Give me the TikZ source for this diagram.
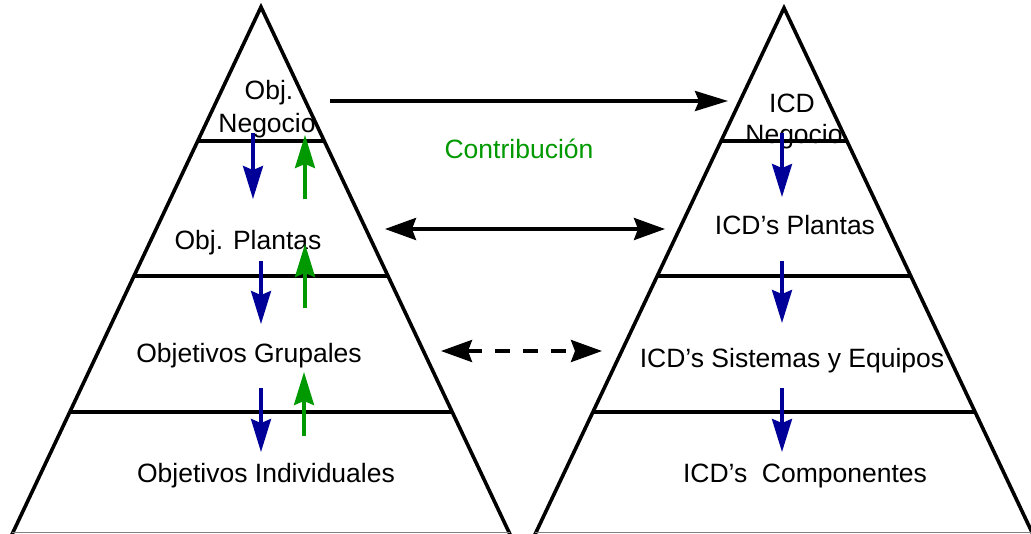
\documentclass[tikz,border=0pt]{standalone}
\usepackage{fontspec}
\setmainfont{Liberation Sans}
\usetikzlibrary{arrows.meta}
\definecolor{downblue}{HTML}{000099}
\definecolor{upgreen}{HTML}{009900}

\begin{document}
\begin{tikzpicture}[x=1pt,y=-1pt,
  side/.style={line width=3.6pt, line join=miter},
  tier/.style={line width=3.6pt},
  baseline/.style={line width=1pt, draw=gray},
  lbl/.style={font=\fontsize{26.5}{30}\selectfont, anchor=base, inner sep=0pt},
  tip/.style={-{Stealth[length=33pt,width=20pt,inset=4pt]}},
  tips/.style={{Stealth[length=31pt,width=22pt,inset=4pt]}-{Stealth[length=31pt,width=22pt,inset=4pt]}},
  link/.style={line width=3.6pt, black},
  down/.style={line width=3.4pt, draw=downblue, fill=downblue, tip},
  up/.style={line width=3.4pt, draw=upgreen, fill=upgreen, tip},
]
\useasboundingbox (0,0) rectangle (1031,533);

% ---- left pyramid: objectives ----
\coordinate (LA) at (261,7);
\draw[side] (7,545) -- (LA) -- (515,545);
\draw[tier] (197.5,141) -- (324.5,141);
\draw[tier] (133.5,276) -- (388.5,276);
\draw[tier] (69,412) -- (453,412);
\draw[baseline] (12,532.5) -- (510,532.5);

\node[lbl] (objA) at (269,99) {Obj.};
\node[lbl] (objB) at (267,132) {Negocio};
\node[lbl] (objP) at (248,249) {Obj. Plantas};
\node[lbl] (objG) at (249,362) {Objetivos Grupales};
\node[lbl] (objI) at (266,482) {Objetivos Individuales};

% ---- right pyramid: indicators ----
\coordinate (RA) at (784,8);
\draw[side] (530,545) -- (RA) -- (1038,545);
\draw[tier] (721,141) -- (847,141);
\draw[tier] (657,276) -- (911,276);
\draw[tier] (592.5,412) -- (975.5,412);
\draw[baseline] (535,532.5) -- (1031,532.5);

\node[lbl] (icdA) at (792,112) {ICD};
\node[lbl] (icdB) at (794,143) {Negocio};
\node[lbl] (icdP) at (795,234) {ICD’s Plantas};
\node[lbl] (icdS) at (792,367) {ICD’s Sistemas y Equipos};
\node[lbl] (icdC) at (805,482) {ICD’s~ Componentes};

\node[lbl, text=upgreen] (contrib) at (519,158) {Contribución};

% ---- links between the pyramids ----
\coordinate (h1a) at (330,101);  \coordinate (h1b) at (728,101);
\coordinate (h2a) at (385,229);  \coordinate (h2b) at (665,229);
\coordinate (h3a) at (441,351);  \coordinate (h3b) at (602,351);
\draw[link, tip] (h1a) -- (h1b);
\draw[link, tips] (h2a) -- (h2b);
\draw[link, tips, dash pattern=on 15pt off 13pt] (h3a) -- (h3b);

% ---- cascade inside the left pyramid ----
\coordinate (d1a) at (253,133); \coordinate (d1b) at (253,199);
\coordinate (d2a) at (261,261); \coordinate (d2b) at (261,324);
\coordinate (d3a) at (261,388); \coordinate (d3b) at (261,452);
\draw[down] (d1a) -- (d1b);
\draw[down] (d2a) -- (d2b);
\draw[down] (d3a) -- (d3b);

\coordinate (u1a) at (305,199); \coordinate (u1b) at (305,135);
\coordinate (u2a) at (305,308); \coordinate (u2b) at (305,244);
\coordinate (u3a) at (304,436); \coordinate (u3b) at (304,372);
\draw[up] (u1a) -- (u1b);
\draw[up] (u2a) -- (u2b);
\draw[up] (u3a) -- (u3b);

% ---- cascade inside the right pyramid ----
\coordinate (r1a) at (782,133); \coordinate (r1b) at (782,197);
\coordinate (r2a) at (782,261); \coordinate (r2b) at (782,323);
\coordinate (r3a) at (782,388); \coordinate (r3b) at (782,452);
\draw[down] (r1a) -- (r1b);
\draw[down] (r2a) -- (r2b);
\draw[down] (r3a) -- (r3b);
\end{tikzpicture}
\end{document}
